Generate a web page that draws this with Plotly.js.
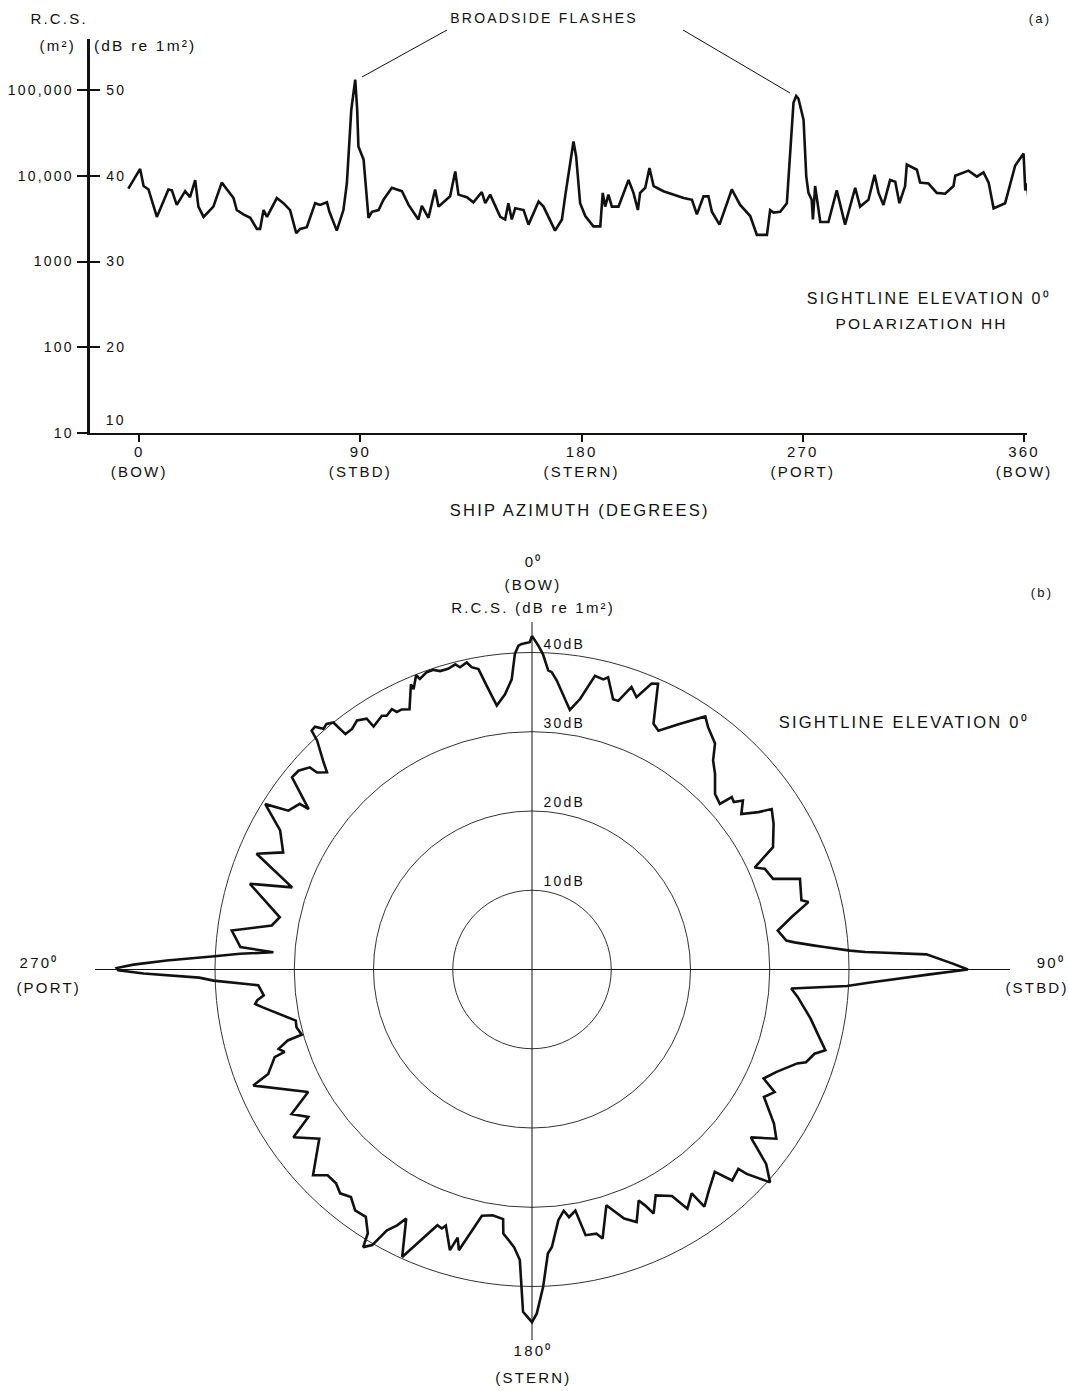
<!DOCTYPE html>
<html><head><meta charset="utf-8">
<script src="https://cdn.plot.ly/plotly-3.0.1.min.js"></script>
<style>
html,body{margin:0;padding:0;background:#fff;overflow:hidden;}
#wrap{width:1069px;height:1391px;overflow:hidden;position:relative;}
#chart{width:1069px;height:1500px;}
#chart text{letter-spacing:2.2px;}
</style></head><body><div id="wrap"><div id="chart"></div></div>
<script>
// ---- (a) RCS versus ship azimuth ----
const azimuthDeg = [
-4.4, 0.4, 1.8, 3.8, 7.2, 11.9, 13.3, 15.3, 18.7, 20.7,
22.8, 24.1, 26.2, 30.2, 33.6, 35.7, 38.4, 39.7, 42.4, 45.2,
47.9, 49.2, 50.6, 52.0, 56.0, 58.7, 61.4, 63.9, 65.5, 68.2,
71.6, 73.6, 76.4, 77.4, 80.4, 83.1, 84.5, 86.3, 87.9, 88.7,
89.2, 91.3, 93.3, 94.7, 97.4, 99.4, 102.8, 104.8, 106.9, 109.6,
113.6, 115.0, 117.7, 120.4, 121.8, 126.5, 128.6, 129.9, 133.3, 136.0,
139.4, 140.8, 142.8, 146.9, 148.9, 150.2, 151.6, 153.0, 156.4, 158.4,
162.5, 164.5, 169.2, 172.0, 173.3, 176.7, 177.8, 179.4, 181.5, 184.8,
187.6, 188.6, 189.6, 190.9, 192.3, 195.0, 199.1, 201.1, 202.9, 203.8,
205.9, 207.6, 209.3, 213.3, 217.4, 221.5, 224.9, 226.9, 229.6, 231.6,
233.0, 236.1, 241.1, 244.5, 248.6, 251.3, 255.4, 256.7, 258.1, 260.8,
263.5, 265.1, 266.2, 267.3, 268.2, 270.3, 271.4, 272.3, 273.6, 274.1,
275.0, 277.1, 280.4, 283.8, 287.2, 291.3, 293.3, 296.7, 299.2, 300.8,
302.8, 305.5, 307.6, 309.3, 311.6, 312.3, 316.4, 317.7, 321.1, 324.5,
327.9, 331.3, 332.0, 337.4, 340.8, 343.5, 345.6, 347.6, 352.3, 356.4,
359.8, 360.5, 361.2, 362.1
];
const rcsDb = [
38.5, 40.8, 38.8, 38.4, 35.2, 38.4, 38.3, 36.6, 38.2, 37.5,
39.5, 36.4, 35.2, 36.4, 39.2, 38.4, 37.4, 36.0, 35.5, 35.1,
33.8, 33.8, 36.0, 35.2, 37.4, 36.8, 36.0, 33.3, 33.8, 34.0,
36.8, 36.6, 36.9, 35.8, 33.6, 36.0, 39.1, 47.7, 51.2, 47.7,
43.4, 41.9, 35.1, 35.8, 36.0, 37.2, 38.6, 38.4, 38.2, 36.6,
34.9, 36.5, 35.1, 38.4, 36.4, 37.6, 40.5, 37.8, 37.5, 36.9,
38.1, 36.8, 37.8, 35.2, 34.9, 36.8, 34.9, 36.2, 36.0, 34.3,
37.0, 36.4, 33.6, 34.9, 37.6, 44.0, 42.2, 36.8, 35.3, 34.1,
34.1, 38.0, 36.4, 37.8, 36.4, 36.4, 39.5, 38.0, 36.0, 38.0,
38.6, 40.9, 38.8, 38.2, 37.8, 37.4, 37.2, 35.5, 37.6, 37.6,
35.8, 34.3, 38.4, 36.6, 35.3, 33.1, 33.1, 36.0, 35.7, 35.8,
36.8, 43.8, 48.5, 49.3, 49.0, 46.5, 39.9, 38.0, 37.2, 34.9,
38.8, 34.6, 34.6, 38.3, 34.3, 38.6, 36.4, 37.2, 40.1, 38.0,
36.6, 39.5, 39.3, 36.8, 38.8, 41.3, 40.7, 39.2, 39.1, 38.0,
37.9, 38.8, 40.0, 40.6, 39.9, 40.4, 39.2, 36.2, 36.8, 41.2,
42.6, 38.3, 39.1, 36.4
];
const azTickVals = [0, 90, 180, 270, 360];
const azTickText = ["0<br>(BOW)", "90<br>(STBD)", "180<br>(STERN)", "270<br>(PORT)", "360<br>(BOW)"];
const m2TickVals = [10, 100, 1000, 10000, 100000];
const m2TickText = ["10", "100", "1000", "10,000", "100,000"];
const dbTickVals = [20, 30, 40, 50];
const dbTickText = ["20", "30", "40", "50"];

// ---- (b) polar plot of RCS ----
const polarTheta = [
0, 1.1, 2.0, 3.1, 3.8, 4.9, 8.3, 10.1, 12.1, 13.8,
14.6, 16.7, 17.8, 19.4, 21.0, 22.7, 23.8, 26.3, 27.9, 31.1,
34.4, 36.0, 39.0, 40.9, 43.1, 46.2, 48.6, 49.2, 50.3, 51.3,
53.4, 55.2, 56.2, 58.9, 63.1, 65.4, 66.6, 69.4, 71.3, 75.6,
76.3, 78.5, 81.0, 83.5, 84.1, 85.1, 85.6, 86.6, 87.0, 87.2,
87.8, 89.2, 90.0, 90.7, 92.2, 93.0, 94.2, 95.9, 100.0, 103.0,
105.4, 106.6, 108.7, 109.5, 112.8, 115.2, 116.8, 118.8, 122.5, 124.7,
127.5, 129.7, 131.8, 133.6, 134.0, 136.5, 137.9, 141.3, 144.0, 144.5,
147.0, 148.3, 151.3, 153.5, 154.4, 155.2, 157.5, 159.7, 162.5, 165.3,
166.3, 168.6, 169.8, 171.5, 172.5, 174.0, 175.9, 176.8, 178.0, 179.2,
180.0, 181.5, 182.4, 183.7, 186.2, 186.6, 189.1, 191.5, 194.6, 195.5,
196.3, 198.6, 199.2, 200.3, 204.3, 206.8, 207.8, 209.1, 210.1, 211.3,
211.9, 213.9, 216.3, 218.5, 220.6, 222.5, 224.8, 226.8, 231.5, 234.9,
236.6, 239.0, 241.3, 247.4, 248.4, 251.2, 251.6, 252.6, 253.8, 254.2,
256.2, 257.8, 262.0, 262.9, 263.6, 264.5, 266.7, 268.0, 268.6, 269.4,
269.9, 270.2, 270.7, 271.4, 272.4, 273.1, 273.8, 274.4, 277.4, 279.6,
281.7, 286.9, 288.9, 292.8, 295.2, 298.9, 301.8, 303.1, 305.5, 305.7,
308.7, 310.4, 312.3, 312.5, 313.9, 315.0, 316.8, 317.3, 318.2, 319.1,
320.1, 321.2, 321.6, 323.2, 324.9, 326.6, 326.9, 329.4, 330.2, 331.7,
332.3, 333.4, 334.8, 337.0, 337.1, 338.5, 338.9, 340.5, 341.8, 342.9,
344.4, 345.9, 346.6, 348.0, 348.7, 349.9, 350.9, 352.4, 354.4, 356.0,
356.9, 357.6, 358.2, 359.6, 360
];
const polarDb = [
42.1, 40.9, 39.8, 37.8, 37.6, 36.6, 33.1, 34.7, 37.9, 37.7,
38.1, 35.6, 35.6, 37.8, 36.8, 39.1, 39.4, 34.6, 34.1, 36.2,
38.7, 37.8, 36.7, 34.9, 33.8, 32.0, 31.6, 33.3, 33.1, 34.1,
32.9, 34.8, 36.4, 35.6, 34.1, 30.9, 32.0, 32.5, 35.7, 35.1,
35.9, 33.5, 31.4, 32.3, 33.3, 35.6, 37.0, 40.2, 42.1, 43.9,
49.8, 53.1, 55.0, 50.2, 42.7, 39.8, 32.8, 33.7, 35.7, 37.1,
38.4, 37.2, 36.5, 35.5, 33.4, 32.3, 34.3, 33.4, 36.2, 37.5,
34.8, 38.4, 40.3, 37.4, 36.2, 36.7, 34.4, 35.7, 37.0, 34.7,
36.0, 33.6, 32.5, 34.4, 33.0, 32.1, 34.5, 33.5, 31.2, 35.1,
34.3, 34.2, 30.9, 31.6, 30.7, 31.8, 35.1, 35.9, 40.1, 43.4,
44.5, 43.2, 36.7, 35.1, 33.5, 31.7, 31.4, 31.7, 36.6, 35.1,
36.9, 34.1, 34.6, 34.4, 39.8, 35.2, 36.5, 37.7, 40.2, 41.0,
39.2, 37.6, 37.7, 36.7, 37.2, 36.6, 36.6, 37.9, 34.3, 36.8,
33.8, 35.4, 32.2, 38.1, 35.8, 34.3, 32.9, 33.5, 32.1, 30.2,
30.6, 30.5, 34.3, 35.2, 34.9, 34.0, 34.6, 40.2, 42.0, 49.0,
52.2, 52.4, 50.3, 46.1, 40.1, 36.9, 32.7, 36.9, 38.2, 33.3,
32.5, 37.2, 32.0, 37.7, 34.7, 36.3, 39.6, 36.7, 36.0, 34.7,
38.8, 38.7, 37.9, 36.8, 35.9, 37.3, 39.6, 41.0, 41.1, 40.2,
40.4, 40.0, 37.9, 37.9, 38.4, 37.9, 36.6, 37.2, 36.9, 37.3,
36.7, 36.7, 36.3, 39.1, 38.4, 39.9, 39.3, 39.8, 39.8, 39.4,
39.4, 39.7, 39.2, 39.6, 38.9, 38.5, 36.3, 33.6, 34.9, 36.7,
39.9, 40.9, 41.1, 41.3, 42.1
];
const ringDb = [10, 20, 30, 40];
const ringText = ["10dB", "20dB", "30dB", "40dB"];

// ---- page geometry helpers (pixels -> paper) ----
const W = 1069, H = 1500;          // figure is taller than the 1391 px view; the extra strip is hidden
const px = x => x / W;
const py = y => 1 - y / H;
const FONT = "Liberation Sans, Arial, Helvetica, sans-serif";
const INK = "#111";

const cx = 532, cy = 969.5;        // polar centre (px)
const pxPerDb = 7.925;             // polar radial scale
const Rmax = 57;                   // radial range upper bound (dB)
const Rpx = Rmax * pxPerDb;

const traces = [
  {type: "scatter", mode: "lines", x: azimuthDeg, y: rcsDb, xaxis: "x", yaxis: "y",
   line: {color: INK, width: 2.6}, hoverinfo: "x+y", showlegend: false},
  {type: "scatter", mode: "lines", x: [], y: [], xaxis: "x", yaxis: "y2",
   hoverinfo: "skip", showlegend: false},
  {type: "scatterpolar", mode: "lines", theta: polarTheta, r: polarDb, subplot: "polar",
   line: {color: INK, width: 2.6}, cliponaxis: false, showlegend: false}
];

function ann(text, x, y, size, xanchor) {
  return {text: text, x: px(x), y: py(y), xref: "paper", yref: "paper", showarrow: false,
          xanchor: xanchor || "center", yanchor: "middle",
          font: {family: FONT, size: size || 15, color: INK}};
}

const annotations = [
  ann("R.C.S.", 59, 18, 15),
  ann("(m²)", 57, 46, 15),
  ann("(dB re 1m²)", 104, 46, 15.5, "left"),
  ann("BROADSIDE FLASHES", 544, 18, 14),
  ann("(a)", 1040, 18, 13),
  ann("SIGHTLINE ELEVATION 0⁰", 929, 298, 16),
  ann("POLARIZATION HH", 921, 323, 15.5),
  ann("SHIP AZIMUTH (DEGREES)", 579, 510, 16.5),
  ann("0⁰", 533, 561, 15),
  ann("(BOW)", 533, 584, 15),
  ann("R.C.S. (dB re 1m²)", 533, 607, 15),
  ann("(b)", 1042, 592, 13),
  ann("SIGHTLINE ELEVATION 0⁰", 904, 722, 16.5),
  ann("270⁰", 39, 962, 15),
  ann("(PORT)", 48, 988, 15),
  ann("90⁰", 1064, 962, 15, "right"),
  ann("(STBD)", 1064, 988, 15, "right"),
  ann("180⁰", 533, 1350, 15),
  ann("(STERN)", 533, 1377, 15),
  {text: "10", x: px(106), xref: "paper", y: 10, yref: "y", yanchor: "bottom", xanchor: "left",
   yshift: 3, showarrow: false, font: {family: FONT, size: 14, color: INK}}
];
// ring labels of the polar plot, just right of the 0-degree spoke and above each ring
ringDb.forEach((v, i) => {
  annotations.push({text: ringText[i], x: px(cx + 14), y: py(cy - v * pxPerDb), xref: "paper", yref: "paper",
    xanchor: "left", yanchor: "bottom", yshift: -1, showarrow: false,
    font: {family: FONT, size: 14, color: INK}});
});

const thin = {color: INK, width: 1};
const shapes = [
  // pointer lines to the broadside flashes
  {type: "line", xref: "paper", yref: "paper", x0: px(447), y0: py(30), x1: px(362), y1: py(77), line: thin},
  {type: "line", xref: "paper", yref: "paper", x0: px(683), y0: py(30), x1: px(790), y1: py(93), line: thin},
  // cross-hair axes of the polar plot
  {type: "line", xref: "paper", yref: "paper", x0: px(cx), y0: py(622), x1: px(cx), y1: py(1340), line: thin},
  {type: "line", xref: "paper", yref: "paper", x0: px(95), y0: py(cy), x1: px(1010), y1: py(cy), line: thin}
];

const layout = {
  width: W, height: H,
  margin: {l: 0, r: 0, t: 0, b: 0},
  paper_bgcolor: "#fff", plot_bgcolor: "rgba(0,0,0,0)",
  font: {family: FONT, size: 15, color: INK},
  showlegend: false,
  xaxis: {
    domain: [px(90), px(1027)], range: [-20, 361.2], anchor: "y",
    tickvals: azTickVals, ticktext: azTickText, ticks: "outside", ticklen: 7, tickwidth: 2,
    tickcolor: INK, ticklabelstandoff: -3, showline: true, linewidth: 2, linecolor: INK,
    showgrid: false, zeroline: false, automargin: false,
    tickfont: {family: FONT, size: 15, color: INK}
  },
  yaxis: {
    domain: [py(433), py(39)], range: [10, 10 + 394 / 8.575], anchor: "x",
    tickvals: dbTickVals, ticktext: dbTickText, ticks: "inside", ticklen: 10, tickwidth: 2,
    tickcolor: INK, ticklabelposition: "inside", ticklabelstandoff: 6,
    showline: false, showgrid: false, zeroline: false,
    automargin: false, tickfont: {family: FONT, size: 14, color: INK}
  },
  yaxis2: {
    overlaying: "y", side: "left", anchor: "x", type: "log", range: [1, 1 + 394 / 85.75],
    tickvals: m2TickVals, ticktext: m2TickText, ticks: "outside", ticklen: 10, tickwidth: 2,
    tickcolor: INK, showline: true, linewidth: 3.5, linecolor: INK,
    showgrid: false, zeroline: false, automargin: false,
    tickfont: {family: FONT, size: 14, color: INK}
  },
  polar: {
    domain: {x: [px(cx - Rpx), px(cx + Rpx)], y: [py(cy + Rpx), py(cy - Rpx)]},
    bgcolor: "rgba(0,0,0,0)",
    radialaxis: {range: [0, Rmax], tickvals: ringDb, showticklabels: false, ticks: "",
                 showline: false, showgrid: true, gridcolor: "#333", gridwidth: 1},
    angularaxis: {rotation: 90, direction: "clockwise", tickvals: [], showgrid: false, showline: false,
                  showticklabels: false, ticks: ""}
  },
  annotations: annotations,
  shapes: shapes
};

Plotly.newPlot("chart", traces, layout, {staticPlot: true, displayModeBar: false}).then(gd => {
  // drop the empty placeholder text nodes (untitled axes etc.) that Plotly leaves in the SVG
  gd.querySelectorAll("text").forEach(t => {
    if (!t.textContent || !t.textContent.trim()) t.remove();
  });
});
</script>
</body></html>
